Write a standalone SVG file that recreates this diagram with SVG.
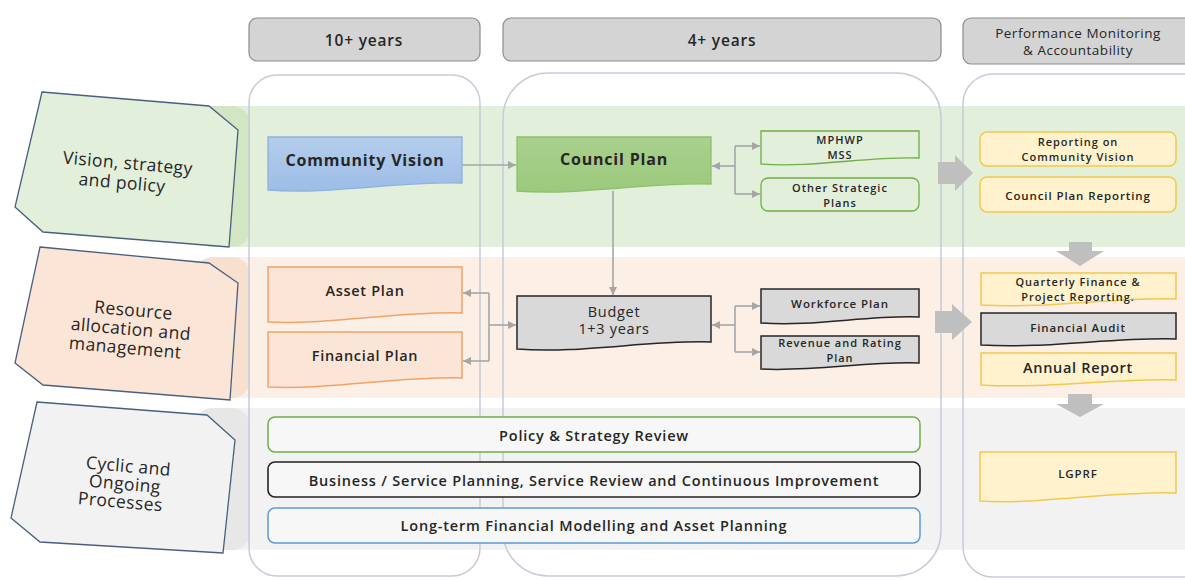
<svg xmlns="http://www.w3.org/2000/svg" width="1185" height="580" viewBox="0 0 1185 580">
<defs>
<style>
text{font-family:"Open Sans","Liberation Sans",sans-serif;fill:#262626;text-anchor:middle;dominant-baseline:central}
.hdr{fill:#d4d4d4;stroke:#8c8c8c;stroke-width:1.2}
.col{fill:none;stroke:#c5ccd9;stroke-width:1.5}
.lbl{stroke:#4a5f80;stroke-width:1.3}
.conn{fill:none;stroke:#a6a6a6;stroke-width:1.6}
.blk{fill:#bfbfbf}
.t16{font-size:17.5px;letter-spacing:0.4px}
.t15b{font-size:16px;font-weight:700;letter-spacing:0.8px}
.t13{font-size:14.5px;font-weight:600;letter-spacing:0.7px}
.t12{font-size:14.5px;font-weight:600;letter-spacing:0.8px}
.t11{font-size:11.5px;font-weight:600;letter-spacing:0.9px}
.t11s{font-size:11px;font-weight:600;letter-spacing:1px}
.yel{fill:#fff2cc;stroke:#f2c94c;stroke-width:1.5}
.gry{fill:#d9d9d9;stroke:#262626;stroke-width:1.5}
.grn{fill:#e2efda;stroke:#70ad47;stroke-width:1.3}
.org{fill:#fbe5d6;stroke:#f0a46a;stroke-width:1.5}
</style>
<marker id="ah" viewBox="0 0 10 10" refX="10" refY="5" markerWidth="8" markerHeight="8" markerUnits="userSpaceOnUse" orient="auto">
<path d="M0,0 L10,5 L0,10 Z" fill="#a6a6a6"/>
</marker>
<linearGradient id="blue" x1="0" y1="0" x2="0" y2="1">
<stop offset="0" stop-color="#b4cdec"/><stop offset="1" stop-color="#9dbde6"/>
</linearGradient>
<linearGradient id="green" x1="0" y1="0" x2="0" y2="1">
<stop offset="0" stop-color="#a9d18e"/><stop offset="1" stop-color="#9bc97c"/>
</linearGradient>
</defs>

<g id="bands">
<rect x="195" y="106" width="1010" height="141" rx="18" fill="#e2efda"/>
<rect x="195" y="106" width="55" height="141" rx="18" fill="#d2e6c4"/>
<rect x="195" y="257" width="1010" height="141" rx="18" fill="#fbefe6"/>
<rect x="195" y="257" width="55" height="141" rx="18" fill="#f8e0cf"/>
<rect x="195" y="408" width="1010" height="142" rx="18" fill="#f2f2f2"/>
<rect x="195" y="408" width="55" height="142" rx="18" fill="#e7e7e7"/>
</g>

<g id="columns">
<rect class="col" x="249" y="75" width="231" height="501" rx="28"/>
<rect class="col" x="503" y="73" width="438" height="503" rx="45"/>
<rect class="col" x="963" y="74" width="260" height="503" rx="30"/>
</g>

<g id="headers">
<g id="hdr-10"><rect class="hdr" x="249" y="18" width="231" height="43" rx="8"/><text x="364" y="40" style="font-size:15.5px;font-weight:600;letter-spacing:0.8px">10+ years</text></g>
<g id="hdr-4"><rect class="hdr" x="503" y="18" width="438" height="43" rx="8"/><text x="722" y="40" style="font-size:15.5px;font-weight:600;letter-spacing:0.8px">4+ years</text></g>
<g id="hdr-perf"><rect class="hdr" x="963" y="18" width="240" height="46" rx="8"/><text x="1078" y="33" style="font-size:13.5px;font-weight:500;letter-spacing:0.5px">Performance Monitoring</text><text x="1078" y="50" style="font-size:13.5px;font-weight:500;letter-spacing:0.5px">&amp; Accountability</text></g>
</g>

<g id="row-vision">
<polygon class="lbl" fill="#e2efda" points="42,92 209,106 238,130 229,247 43,232 15,207"/>
<g transform="rotate(5 126 172)"><text class="t16" x="127" y="162">Vision, strategy</text><text class="t16" x="123" y="182">and policy</text></g>
</g>
<g id="row-resource">
<polygon class="lbl" fill="#fbe5d6" points="40,247 209,263 238,283 230,400 43,385 15,363"/>
<g transform="rotate(5 130 328)"><text class="t16" x="132" y="309">Resource</text><text class="t16" x="131" y="328">allocation and</text><text class="t16" x="127" y="347">management</text></g>
</g>
<g id="row-cyclic">
<polygon class="lbl" fill="#f2f2f2" points="37,402 207,415 235,440 223,553 40,542 11,518"/>
<g transform="rotate(5 125 483)"><text class="t16" x="127" y="465">Cyclic and</text><text class="t16" x="125" y="483">Ongoing</text><text class="t16" x="122" y="501">Processes</text></g>
</g>

<g id="connectors">
<path class="conn" d="M462,165 H516" marker-end="url(#ah)"/>
<path class="conn" d="M613,191 V295" marker-end="url(#ah)"/>
<path class="conn" d="M735,166 H712" marker-end="url(#ah)"/>
<path class="conn" d="M735,146 V194"/>
<path class="conn" d="M735,146 H760" marker-end="url(#ah)"/>
<path class="conn" d="M735,194 H760" marker-end="url(#ah)"/>
<path class="conn" d="M489,325 H516" marker-end="url(#ah)"/>
<path class="conn" d="M489,293 V361"/>
<path class="conn" d="M489,293 H463" marker-end="url(#ah)"/>
<path class="conn" d="M489,361 H463" marker-end="url(#ah)"/>
<path class="conn" d="M735,325 H712" marker-end="url(#ah)"/>
<path class="conn" d="M735,306 V352"/>
<path class="conn" d="M735,306 H760" marker-end="url(#ah)"/>
<path class="conn" d="M735,352 H760" marker-end="url(#ah)"/>
<polygon class="blk" points="938,162 955,162 955,155 973,173 955,191 955,184 938,184"/>
<polygon class="blk" points="935,311 952,311 952,304 972,322 952,340 952,333 935,333"/>
<polygon class="blk" points="1069,242 1092,242 1092,251 1104,251 1080,266 1056,251 1069,251"/>
<polygon class="blk" points="1068,394 1092,394 1092,404 1104,404 1080,417 1056,404 1068,404"/>
</g>

<g id="community-vision"><path d="M268,137 H462 V183 C400,181 330,195 268,190 Z" fill="url(#blue)" stroke="#8fb0dc" stroke-width="1.3"/><text class="t15b" x="365" y="160" fill="#1f2d3d">Community Vision</text></g>
<g id="council-plan"><path d="M517,137 H711 V184 C649,182 579,196 517,191 Z" fill="url(#green)" stroke="#8cc06a" stroke-width="1.3"/><text class="t15b" x="614" y="159">Council Plan</text></g>
<g id="mphwp"><path class="grn" d="M761,131 H919 V158 C870,156 812,168 761,164 Z"/><text class="t11s" x="840" y="139">MPHWP</text><text class="t11s" x="840" y="154">MSS</text></g>
<g id="other-strategic"><rect class="grn" x="761" y="178" width="158" height="33" rx="7"/><text class="t11s" x="840" y="187.5">Other Strategic</text><text class="t11s" x="840" y="202.5">Plans</text></g>

<g id="asset-plan"><path class="org" d="M268,267 H462 V313 C400,311 330,325 268,322 Z"/><text class="t13" x="365" y="290">Asset Plan</text></g>
<g id="financial-plan"><path class="org" d="M268,332 H462 V378 C400,376 330,390 268,387 Z"/><text class="t13" x="365" y="355">Financial Plan</text></g>
<g id="budget"><path class="gry" d="M517,296 H711 V342 C649,340 579,354 517,349 Z"/><text class="t13" x="614" y="311" style="font-weight:500">Budget</text><text class="t13" x="614" y="328" style="font-weight:500">1+3 years</text></g>
<g id="workforce-plan"><path class="gry" d="M761,289 H919 V317 C870,315 812,327 761,323 Z"/><text class="t11" x="840" y="303">Workforce Plan</text></g>
<g id="revenue-plan"><path class="gry" d="M761,336 H919 V363 C870,361 812,372 761,369 Z"/><text class="t11s" x="840" y="342">Revenue and Rating</text><text class="t11s" x="840" y="357">Plan</text></g>

<g id="reporting-cv"><rect class="yel" x="980" y="132" width="196" height="34" rx="7"/><text class="t11s" x="1078" y="141.5">Reporting on</text><text class="t11s" x="1078" y="156.5">Community Vision</text></g>
<g id="council-plan-reporting"><rect class="yel" x="980" y="177" width="196" height="35" rx="7"/><text class="t11" x="1078" y="195">Council Plan Reporting</text></g>
<g id="quarterly"><path class="yel" d="M981,273 H1176 V299 C1116,297 1046,309 981,305 Z"/><text class="t11s" x="1078" y="281">Quarterly Finance &amp;</text><text class="t11s" x="1078" y="296">Project Reporting.</text></g>
<g id="financial-audit"><path class="gry" d="M981,313 H1176 V339 C1116,337 1046,349 981,345 Z"/><text class="t11" x="1078" y="327">Financial Audit</text></g>
<g id="annual-report"><path class="yel" d="M981,353 H1176 V380 C1116,378 1046,389 981,385 Z"/><text class="t13" x="1078" y="367">Annual Report</text></g>
<g id="lgprf"><path class="yel" d="M980,452 H1176 V493 C1110,491 1040,505 980,501 Z"/><text class="t11" x="1078" y="473">LGPRF</text></g>

<g id="policy-review"><rect x="268" y="417" width="652" height="35" rx="7" fill="#f7f7f7" stroke="#70ad47" stroke-width="1.5"/><text class="t12" x="594" y="435">Policy &amp; Strategy Review</text></g>
<g id="business-planning"><rect x="268" y="462" width="652" height="35" rx="7" fill="#f7f7f7" stroke="#222" stroke-width="1.6"/><text class="t12" x="594" y="480">Business / Service Planning, Service Review and Continuous Improvement</text></g>
<g id="long-term"><rect x="268" y="508" width="652" height="35" rx="7" fill="#f7f7f7" stroke="#5b9bd5" stroke-width="1.5"/><text class="t12" x="594" y="525">Long-term Financial Modelling and Asset Planning</text></g>
</svg>
